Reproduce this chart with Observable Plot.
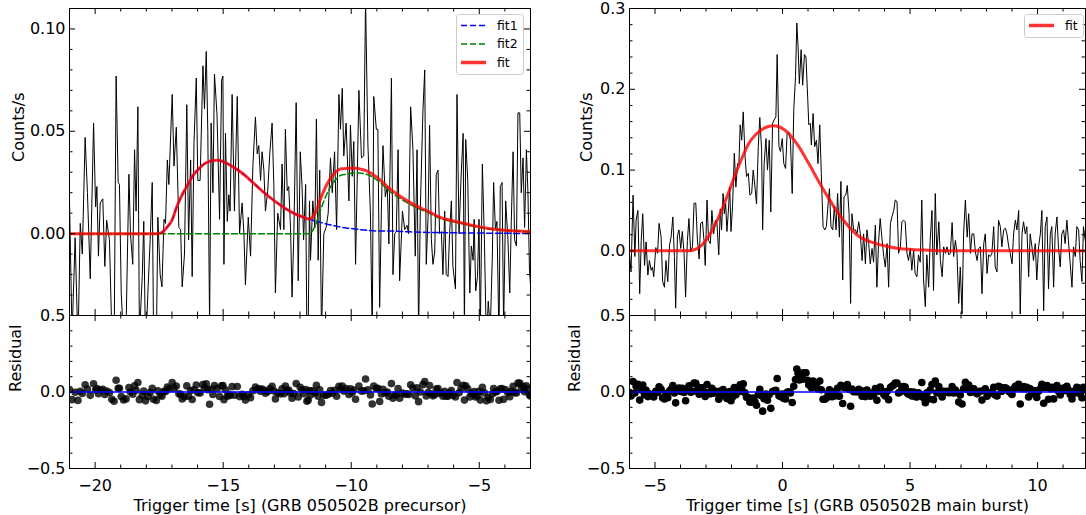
<!DOCTYPE html>
<html>
<head>
<meta charset="utf-8">
<script src="https://cdn.jsdelivr.net/npm/d3@7"></script>
<script src="https://cdn.jsdelivr.net/npm/@observablehq/plot@0.6"></script>
<style>
  html, body { margin: 0; padding: 0; background: #ffffff; }
  #fig { position: relative; width: 1086px; height: 515px; background: #ffffff; font-family: "DejaVu Sans", sans-serif; overflow: hidden; }
  #fig > svg { position: absolute; }
</style>
</head>
<body>
<div id="fig"></div>
<script>
// ---------- Precursor light curve (GRB 050502B precursor) ----------
const preTime = [
-21.00,-20.90,-20.78,-20.67,-20.58,-20.50,-20.39,-20.30,-20.19,-20.06,
-19.98,-19.93,-19.87,-19.80,-19.70,-19.62,-19.55,-19.44,-19.35,-19.26,
-19.18,-19.10,-19.05,-18.98,-18.89,-18.79,-18.68,-18.62,-18.53,-18.46,
-18.40,-18.33,-18.27,-18.16,-18.10,-18.03,-17.94,-17.85,-17.77,-17.72,
-17.61,-17.55,-17.46,-17.39,-17.31,-17.25,-17.18,-17.12,-16.99,-16.92,
-16.83,-16.73,-16.66,-16.60,-16.51,-16.42,-16.35,-16.27,-16.21,-16.14,
-16.05,-15.99,-15.90,-15.79,-15.73,-15.66,-15.60,-15.53,-15.47,-15.40,
-15.34,-15.24,-15.14,-15.06,-15.01,-14.97,-14.91,-14.84,-14.78,-14.73,
-14.65,-14.56,-14.45,-14.36,-14.26,-14.19,-14.13,-14.02,-13.93,-13.84,
-13.74,-13.67,-13.61,-13.54,-13.48,-13.41,-13.35,-13.26,-13.18,-13.09,
-13.02,-12.96,-12.87,-12.76,-12.70,-12.63,-12.57,-12.50,-12.44,-12.37,
-12.31,-12.24,-12.15,-12.07,-11.99,-11.92,-11.86,-11.78,-11.73,-11.68,
-11.63,-11.59,-11.50,-11.42,-11.36,-11.29,-11.23,-11.16,-11.07,-10.98,
-10.90,-10.81,-10.74,-10.65,-10.57,-10.48,-10.42,-10.35,-10.29,-10.20,
-10.09,-10.03,-9.96,-9.90,-9.83,-9.70,-9.60,-9.51,-9.44,-9.35,
-9.25,-9.18,-9.12,-9.02,-8.96,-8.89,-8.82,-8.76,-8.67,-8.59,
-8.53,-8.43,-8.37,-8.30,-8.24,-8.17,-8.11,-8.00,-7.91,-7.82,
-7.76,-7.68,-7.59,-7.50,-7.43,-7.37,-7.30,-7.20,-7.13,-7.07,
-7.00,-6.94,-6.87,-6.81,-6.74,-6.68,-6.61,-6.55,-6.48,-6.42,
-6.35,-6.29,-6.22,-6.16,-6.09,-6.03,-5.93,-5.87,-5.79,-5.71,
-5.63,-5.58,-5.53,-5.45,-5.37,-5.31,-5.24,-5.20,-5.14,-5.07,
-5.01,-4.96,-4.88,-4.80,-4.72,-4.65,-4.57,-4.49,-4.44,-4.37,
-4.31,-4.23,-4.18,-4.11,-4.05,-3.97,-3.88,-3.81,-3.75,-3.68,
-3.62,-3.55,-3.49,-3.42,-3.36,-3.29,-3.23,-3.16,-3.10,-3.04,
-3.00];
const preRate = [
0.016,-0.050,-0.002,-0.055,0.005,-0.010,0.047,0.020,-0.022,0.054,
0.013,0.023,-0.011,0.015,0.017,-0.016,0.0065,-0.003,-0.048,-0.060,
0.077,0.025,0.024,-0.029,-0.052,-0.045,0.029,0.000,-0.015,0.041,
0.011,0.062,-0.050,-0.021,0.006,-0.058,-0.029,-0.003,0.025,-0.047,
-0.055,0.008,-0.020,-0.026,0.007,0.005,0.036,0.024,0.068,0.033,
0.052,0.003,0.002,-0.026,-0.010,0.063,-0.003,0.036,-0.021,0.044,
0.076,0.026,0.026,0.082,0.061,0.089,0.050,-0.045,0.054,0.020,
0.078,0.058,0.007,0.075,0.077,-0.015,0.049,0.006,0.019,0.011,
0.068,0.011,0.067,0.000,0.015,0.000,-0.025,0.008,-0.011,0.033,
0.057,0.039,0.043,0.026,0.040,0.031,0.011,0.021,0.039,0.054,
0.023,-0.029,0.010,0.002,0.034,0.002,0.051,0.021,0.023,0.003,
-0.031,0.000,0.064,-0.023,0.040,0.023,-0.003,0.024,-0.052,-0.046,
0.016,-0.013,0.016,0.003,0.056,-0.013,0.031,-0.050,0.000,0.003,
0.010,0.037,0.020,0.040,0.002,0.068,0.051,0.071,0.038,0.054,
0.016,0.053,0.028,0.045,-0.015,0.070,0.037,0.038,0.115,0.044,
0.010,-0.050,0.067,0.051,0.051,-0.036,0.013,0.043,0.018,0.023,
-0.005,0.076,-0.020,0.000,0.001,0.041,-0.023,0.011,0.002,0.004,
0.000,0.062,0.041,-0.011,0.041,-0.050,0.013,0.060,0.080,-0.015,
0.008,0.053,-0.003,-0.015,-0.009,0.029,0.031,0.000,0.001,-0.020,
0.011,-0.020,-0.021,0.000,0.016,-0.016,-0.027,0.068,0.000,0.028,
0.049,-0.048,0.046,0.026,-0.029,-0.006,-0.013,0.007,-0.028,-0.021,
0.007,-0.050,0.034,-0.003,-0.055,-0.033,-0.047,-0.011,0.025,0.002,
0.006,-0.052,0.023,0.025,-0.046,0.016,-0.003,-0.029,0.006,0.040,
-0.003,-0.006,0.059,0.059,0.020,0.037,0.003,0.041,0.020,-0.018,
-0.025];
const preResid = [
0.016,-0.050,-0.002,-0.055,0.005,-0.010,0.047,0.020,-0.022,0.054,
0.013,0.023,-0.011,0.015,0.017,-0.016,0.0065,-0.003,-0.048,-0.060,
0.077,0.025,0.024,-0.029,-0.052,-0.045,0.029,0.000,-0.015,0.041,
0.011,0.062,-0.050,-0.021,0.006,-0.058,-0.029,-0.003,0.025,-0.047,
-0.055,0.008,-0.020,-0.027,0.005,0.0025,0.0325,0.0195,0.061,0.024,
0.0395,-0.012,-0.015,-0.045,-0.031,0.040,-0.028,0.0095,-0.049,0.015,
0.0455,-0.005,-0.006,0.048,0.027,0.054,0.015,-0.080,0.018,-0.016,
0.042,0.022,-0.029,0.040,0.042,-0.050,0.014,-0.028,-0.015,-0.023,
0.035,-0.021,0.036,-0.030,-0.0145,-0.029,-0.053,-0.019,-0.037,0.008,
0.033,0.016,0.0205,0.0045,0.019,0.011,-0.0085,0.0025,0.021,0.037,
0.007,-0.045,-0.005,-0.012,0.021,-0.011,0.039,0.009,0.012,-0.008,
-0.041,-0.010,0.055,-0.032,0.031,0.015,-0.011,0.016,-0.060,-0.053,
0.009,-0.020,0.0075,-0.007,0.0445,-0.027,0.015,-0.068,-0.021,-0.0205,
-0.015,0.010,-0.008,0.011,-0.028,0.037,0.020,0.039,0.006,0.022,
-0.016,0.021,-0.004,0.013,-0.047,0.0385,0.006,0.0075,0.085,0.014,
-0.019,-0.078,0.039,0.023,0.024,-0.062,-0.0125,0.018,-0.006,0.000,
-0.0275,0.055,-0.0405,-0.020,-0.0185,0.022,-0.041,-0.0065,-0.015,-0.012,
-0.016,0.047,0.0265,-0.025,0.0275,-0.063,0.000,0.048,0.0685,-0.026,
-0.003,0.042,-0.013,-0.025,-0.018,0.020,0.022,-0.008,-0.007,-0.028,
0.004,-0.027,-0.028,-0.0065,0.010,-0.022,-0.033,0.062,-0.005,0.023,
0.044,-0.053,0.041,0.021,-0.033,-0.010,-0.017,0.003,-0.032,-0.025,
0.004,-0.053,0.031,-0.006,-0.058,-0.036,-0.049,-0.013,0.023,0.000,
0.004,-0.054,0.021,0.023,-0.048,0.014,-0.005,-0.031,0.004,0.038,
-0.004,-0.007,0.058,0.058,0.019,0.036,0.002,0.040,0.019,-0.019,
-0.026];
// precursor model components
const preFitTime = [-21,-17.6,-17.4,-17.2,-17.0,-16.8,-16.6,-16.4,-16.2,-16.0,
-15.8,-15.6,-15.4,-15.2,-15.0,-14.6,-14.2,-13.8,-13.4,-13.0,
-12.6,-12.2,-11.9,-11.65,-11.4,-11.2,-11.0,-10.8,-10.6,-10.4,
-10.2,-10.0,-9.8,-9.6,-9.4,-9.0,-8.5,-8.0,-7.5,-7.0,
-6.5,-6.0,-5.5,-5.0,-4.5,-4.0,-3.5,-3.0];
const preFit1 = [0,0,0.0005,0.003,0.0065,0.0135,0.019,0.0235,0.028,0.031,
0.0335,0.035,0.0357,0.0358,0.0352,0.0325,0.029,0.0245,0.020,0.016,
0.0125,0.0097,0.0082,0.0071,0.0062,0.0055,0.0048,0.0042,0.0037,0.0032,
0.0028,0.0025,0.0022,0.0019,0.0017,0.0013,0.0013,0.0010,0.0008,0.0006,
0.0005,0.0004,0.0003,0.0003,0.0002,0.0002,0.0001,0.0001];
const preFit2 = [0,0,0,0,0,0,0,0,0,0,
0,0,0,0,0,0,0,0,0,0,
0,0,0,0,0.004,0.0115,0.018,0.023,0.0265,0.0285,
0.029,0.0295,0.0297,0.0295,0.029,0.0263,0.0207,0.0165,0.013,0.0103,
0.0073,0.0058,0.0044,0.003,0.0021,0.0015,0.0012,0.0009];
const preFitTotal = [0,0,0.0005,0.003,0.0065,0.0135,0.019,0.0235,0.028,0.031,
0.0335,0.035,0.0357,0.0358,0.0352,0.0325,0.029,0.0245,0.020,0.016,
0.0125,0.0097,0.0082,0.0071,0.0102,0.017,0.0228,0.0272,0.0302,0.0317,
0.0318,0.032,0.0319,0.0314,0.0307,0.0276,0.022,0.0175,0.0138,0.0109,
0.0078,0.0062,0.0047,0.0033,0.0023,0.0017,0.0013,0.0010];

// ---------- Main burst light curve (GRB 050502B main burst) ----------
const mainTime = [
-6.00,-5.94,-5.86,-5.79,-5.74,-5.67,-5.60,-5.54,-5.48,-5.41,
-5.35,-5.28,-5.22,-5.15,-5.10,-5.05,-4.97,-4.90,-4.84,-4.76,
-4.70,-4.63,-4.57,-4.50,-4.43,-4.37,-4.30,-4.24,-4.19,-4.12,
-4.06,-3.99,-3.93,-3.86,-3.80,-3.73,-3.67,-3.60,-3.53,-3.47,
-3.40,-3.34,-3.27,-3.21,-3.14,-3.08,-3.03,-2.96,-2.90,-2.83,
-2.77,-2.70,-2.63,-2.57,-2.50,-2.44,-2.39,-2.33,-2.28,-2.23,
-2.18,-2.13,-2.07,-2.02,-1.96,-1.89,-1.83,-1.76,-1.71,-1.66,
-1.60,-1.54,-1.47,-1.41,-1.34,-1.28,-1.21,-1.15,-1.08,-1.02,
-0.95,-0.89,-0.82,-0.78,-0.72,-0.65,-0.59,-0.52,-0.46,-0.39,
-0.33,-0.26,-0.21,-0.14,-0.08,-0.01,0.05,0.12,0.18,0.25,
0.31,0.38,0.44,0.51,0.56,0.61,0.66,0.73,0.79,0.86,
0.92,0.99,1.03,1.09,1.13,1.20,1.26,1.33,1.39,1.46,
1.52,1.59,1.66,1.72,1.79,1.84,1.90,1.97,2.03,2.10,
2.16,2.23,2.29,2.36,2.41,2.48,2.54,2.61,2.67,2.72,
2.79,2.86,2.92,2.99,3.05,3.12,3.18,3.25,3.31,3.38,
3.44,3.51,3.57,3.64,3.70,3.77,3.83,3.90,3.97,4.03,
4.10,4.16,4.23,4.29,4.36,4.42,4.49,4.55,4.62,4.68,
4.75,4.81,4.88,4.94,5.01,5.07,5.14,5.20,5.27,5.33,
5.40,5.46,5.53,5.60,5.66,5.73,5.79,5.86,5.92,5.99,
6.05,6.13,6.19,6.26,6.32,6.39,6.45,6.52,6.58,6.65,
6.71,6.78,6.84,6.91,6.97,7.04,7.10,7.17,7.24,7.30,
7.37,7.43,7.50,7.56,7.63,7.69,7.76,7.82,7.89,7.95,
8.02,8.08,8.15,8.21,8.28,8.34,8.41,8.47,8.54,8.60,
8.67,8.74,8.80,8.87,8.93,9.00,9.06,9.13,9.19,9.26,
9.32,9.39,9.45,9.52,9.58,9.65,9.71,9.78,9.84,9.91,
9.97,10.04,10.11,10.17,10.24,10.30,10.37,10.43,10.50,10.56,
10.63,10.69,10.76,10.82,10.89,10.95,11.02,11.08,11.15,11.21,
11.28,11.35,11.41,11.48,11.54,11.61,11.67,11.74,11.80,11.87,
11.93];
const mainRate = [
-0.003,-0.026,0.069,-0.007,0.038,0.050,-0.053,0.013,0.046,-0.018,
0.011,-0.030,-0.012,-0.024,-0.020,-0.032,0.004,-0.003,0.034,0.017,
-0.038,-0.045,-0.012,-0.038,0.007,0.017,0.042,-0.007,-0.071,0.019,
0.026,0.003,0.024,-0.003,-0.057,0.013,0.040,-0.001,0.005,0.059,
0.059,0.015,-0.010,0.034,0.036,0.013,-0.018,0.063,0.013,0.009,
0.050,0.021,0.038,0.034,-0.005,0.052,0.026,0.071,0.046,0.059,
0.024,0.046,0.079,0.024,0.055,0.121,0.079,0.108,0.108,0.156,
0.137,0.172,0.117,0.092,0.096,0.069,0.071,0.100,0.079,0.058,
0.129,0.165,0.125,0.026,0.108,0.139,0.100,0.137,0.048,0.158,
0.162,0.166,0.243,0.129,0.123,0.139,0.108,0.102,0.145,0.147,
0.137,0.071,0.174,0.216,0.282,0.253,0.207,0.249,0.205,0.243,
0.240,0.187,0.156,0.158,0.131,0.170,0.129,0.137,0.108,0.156,
0.096,0.030,0.026,0.030,0.059,0.077,0.030,0.026,0.055,0.026,
0.071,0.017,0.086,-0.036,0.067,0.069,0.081,0.046,-0.065,0.046,
0.026,0.026,0.021,0.036,0.021,-0.012,0.021,-0.016,0.026,0.009,
-0.016,0.003,-0.014,0.032,-0.045,0.013,0.040,0.015,-0.007,-0.020,
0.009,-0.045,0.034,0.042,0.050,0.063,0.061,-0.003,0.005,0.036,
0.038,0.036,-0.003,-0.012,0.003,-0.024,0.001,-0.028,-0.032,-0.005,
-0.014,0.063,-0.036,-0.069,-0.005,-0.045,0.013,0.050,-0.049,0.071,
-0.005,0.036,-0.012,-0.032,0.005,-0.003,0.005,-0.005,-0.003,0.035,
-0.007,0.013,-0.003,-0.065,-0.020,-0.078,0.021,0.063,0.017,0.046,
-0.003,0.021,0.021,-0.001,-0.012,0.003,0.005,-0.053,0.009,0.021,
-0.028,-0.005,-0.007,-0.003,0.030,-0.020,-0.026,0.038,0.030,0.005,
0.026,0.028,0.021,0.005,-0.003,-0.016,0.021,0.038,0.026,0.050,
-0.078,0.021,0.036,0.021,0.030,-0.032,0.021,0.005,-0.012,0.009,
-0.036,0.005,0.021,0.050,-0.074,0.030,0.042,-0.047,0.021,0.030,
-0.045,0.021,0.042,0.005,-0.020,0.021,0.026,0.009,0.038,0.013,
-0.016,-0.045,0.005,-0.007,0.030,0.026,-0.012,-0.038,0.030,0.013,
0.020];
const mainResid = [
-0.003,-0.026,0.069,-0.007,0.038,0.050,-0.053,0.013,0.046,-0.018,
0.011,-0.030,-0.012,-0.024,-0.020,-0.032,0.004,-0.003,0.034,0.017,
-0.038,-0.045,-0.012,-0.038,0.007,0.017,0.042,-0.007,-0.071,0.019,
0.026,0.003,0.024,-0.003,-0.057,0.013,0.040,-0.001,0.004,0.058,
0.057,0.012,-0.015,0.028,0.028,0.0035,-0.029,0.0495,-0.005,-0.012,
0.025,-0.008,0.005,-0.003,-0.047,0.006,-0.024,0.016,-0.013,-0.004,
-0.043,-0.025,0.003,-0.057,-0.032,0.029,-0.018,0.006,0.002,0.047,
0.023,0.054,-0.006,-0.035,-0.036,-0.066,-0.067,-0.040,-0.064,-0.087,
-0.018,0.017,-0.025,-0.125,-0.044,-0.014,-0.054,-0.017,-0.107,0.003,
0.007,0.011,0.088,-0.025,-0.030,-0.013,-0.042,-0.046,-0.002,0.002,
-0.006,-0.069,0.037,0.082,0.150,0.123,0.079,0.124,0.084,0.126,
0.126,0.077,0.048,0.053,0.028,0.072,0.034,0.046,0.020,0.072,
0.015,-0.047,-0.047,-0.039,-0.007,0.014,-0.030,-0.030,0.002,-0.024,
0.024,-0.028,0.044,-0.075,0.030,0.035,0.049,0.016,-0.093,0.020,
0.002,0.004,0.001,0.018,0.004,-0.028,0.006,-0.030,0.013,-0.003,
-0.0275,-0.008,-0.024,0.0225,-0.054,0.005,0.032,0.008,-0.014,-0.026,
0.003,-0.050,0.029,0.038,0.046,0.059,0.058,-0.006,0.002,0.033,
0.035,0.033,-0.005,-0.014,0.001,-0.026,-0.001,-0.030,-0.033,-0.006,
-0.015,0.062,-0.037,-0.070,-0.006,-0.046,0.012,0.049,-0.050,0.071,
-0.005,0.036,-0.012,-0.032,0.005,-0.003,0.005,-0.005,-0.003,0.035,
-0.007,0.013,-0.003,-0.065,-0.020,-0.078,0.021,0.063,0.017,0.046,
-0.003,0.021,0.021,-0.001,-0.012,0.003,0.005,-0.053,0.009,0.021,
-0.028,-0.005,-0.007,-0.003,0.030,-0.020,-0.026,0.038,0.030,0.005,
0.026,0.028,0.021,0.005,-0.003,-0.016,0.021,0.038,0.026,0.050,
-0.078,0.021,0.036,0.021,0.030,-0.032,0.021,0.005,-0.012,0.009,
-0.036,0.005,0.021,0.050,-0.074,0.030,0.042,-0.047,0.021,0.030,
-0.045,0.021,0.042,0.005,-0.020,0.021,0.026,0.009,0.038,0.013,
-0.016,-0.045,0.005,-0.007,0.030,0.026,-0.012,-0.038,0.030,0.013,
0.020];
const mainFitTime = [-6,-3.7,-3.43,-3.17,-2.91,-2.65,-2.39,-2.13,-1.86,-1.60,
-1.34,-1.08,-0.82,-0.56,-0.37,-0.17,0.07,0.25,0.64,1.03,
1.42,1.81,2.20,2.60,2.99,3.38,3.77,4.16,4.55,5.07,
5.73,6.5,11.93];
const mainFit = [0,0,0.0017,0.007,0.0174,0.032,0.050,0.071,0.094,0.114,
0.132,0.143,0.150,0.154,0.155,0.154,0.150,0.145,0.129,0.108,
0.086,0.065,0.046,0.030,0.018,0.012,0.008,0.005,0.003,0.0017,
0.0008,0,0];

// ---------- axis ticks and labels ----------
const preXMajor = [-20,-15,-10,-5];
const preXMinor = [-21,-19,-18,-17,-16,-14,-13,-12,-11,-9,-8,-7,-6,-4,-3];
const mainXMajor = [-5,0,5,10];
const mainXMinor = [-6,-4,-3,-2,-1,1,2,3,4,6,7,8,9,11];
const preYMajor = [0,0.05,0.10];
const preYMinor = [-0.03,-0.02,-0.01,0.01,0.02,0.03,0.04,0.06,0.07,0.08,0.09];
const mainYMajor = [0,0.1,0.2,0.3];
const mainYMinor = [-0.06,-0.04,-0.02,0.02,0.04,0.06,0.08,0.12,0.14,0.16,0.18,0.22,0.24,0.26,0.28];
const resYMajor = [-0.5,0,0.5];
const resYMinor = [-0.4,-0.3,-0.2,-0.1,0.1,0.2,0.3,0.4];
const preXTitle = "Trigger time [s] (GRB 050502B precursor)";
const mainXTitle = "Trigger time [s] (GRB 050502B main burst)";
const topYTitle = "Counts/s";
const resYTitle = "Residual";

// ---------- tables ----------
const preRows = preTime.map((t, i) => ({t, rate: preRate[i], resid: preResid[i]}));
const mainRows = mainTime.map((t, i) => ({t, rate: mainRate[i], resid: mainResid[i]}));
const preFitRows = preFitTime.map((t, i) => ({t, fit1: preFit1[i], fit2: preFit2[i], fit: preFitTotal[i]}));
const mainFitRows = mainFitTime.map((t, i) => ({t, fit: mainFit[i]}));

const FS = 16;
const fmtInt = d3.format("d");
const fmt2 = d3.format(".2f");
const fmt1 = d3.format(".1f");

function tickMarks(xMajor, xMinor, yMajor, yMinor, pw, ph) {
  const M = 6, m = 3.5;
  const s = {stroke: "black", strokeWidth: 1};
  return [
    Plot.tickX(xMajor, {x: d => d, insetTop: ph - M, ...s}),
    Plot.tickX(xMajor, {x: d => d, insetBottom: ph - M, ...s}),
    Plot.tickX(xMinor, {x: d => d, insetTop: ph - m, ...s}),
    Plot.tickX(xMinor, {x: d => d, insetBottom: ph - m, ...s}),
    Plot.tickY(yMajor, {y: d => d, insetRight: pw - M, ...s}),
    Plot.tickY(yMajor, {y: d => d, insetLeft: pw - M, ...s}),
    Plot.tickY(yMinor, {y: d => d, insetRight: pw - m, ...s}),
    Plot.tickY(yMinor, {y: d => d, insetLeft: pw - m, ...s})
  ];
}

function panel(cfg) {
  const pw = cfg.width - cfg.ml - cfg.mr;
  const ph = cfg.height - cfg.mt - cfg.mb;
  const marks = [
    ...cfg.marks,
    ...tickMarks(cfg.xMajor, cfg.xMinor, cfg.yMajor, cfg.yMinor, pw, ph),
    Plot.frame({stroke: "black", strokeWidth: 1}),
    Plot.text(cfg.yMajor, {y: d => d, text: cfg.yFmt, frameAnchor: "left", textAnchor: "end", dx: -4, fontSize: FS, fill: "black"}),
    Plot.text([cfg.yTitle], {frameAnchor: "left", rotate: -90, dx: cfg.yTitleDx, fontSize: FS, fill: "black"})
  ];
  if (cfg.xLabels) {
    marks.push(Plot.text(cfg.xMajor, {x: d => d, text: d => fmtInt(d), frameAnchor: "bottom", lineAnchor: "top", dy: 11, fontSize: FS, fill: "black"}));
    marks.push(Plot.text([cfg.xTitle], {frameAnchor: "bottom", lineAnchor: "top", dy: 31, fontSize: FS, fill: "black"}));
  }
  const svg = Plot.plot({
    width: cfg.width, height: cfg.height,
    marginLeft: cfg.ml, marginRight: cfg.mr, marginTop: cfg.mt, marginBottom: cfg.mb,
    x: {domain: cfg.xDomain, axis: null},
    y: {domain: cfg.yDomain, axis: null},
    style: {background: "transparent", overflow: "visible", fontFamily: "DejaVu Sans, sans-serif", fontSize: FS + "px", color: "black"},
    marks
  });
  svg.style.left = cfg.left + "px";
  svg.style.top = cfg.top + "px";
  svg.style.maxWidth = "none";
  return svg;
}

const fig = document.getElementById("fig");

// bottom-left: precursor residuals
fig.appendChild(panel({
  left: 0, top: 300, width: 545, height: 215, ml: 69, mr: 15, mt: 15, mb: 47,
  xDomain: [-21, -3], yDomain: [-0.5, 0.5],
  xMajor: preXMajor, xMinor: preXMinor, yMajor: resYMajor, yMinor: resYMinor,
  yFmt: d => fmt1(d), yTitle: resYTitle, yTitleDx: -54, xLabels: true, xTitle: preXTitle,
  marks: [
    Plot.dot(preRows, {x: "t", y: "resid", r: 3.8, fill: "black", fillOpacity: 0.8, stroke: "none", clip: true}),
    Plot.ruleY([0], {stroke: "blue", strokeWidth: 1.5})
  ]
}));

// bottom-right: main burst residuals
fig.appendChild(panel({
  left: 545, top: 300, width: 541, height: 215, ml: 84, mr: 1, mt: 15, mb: 47,
  xDomain: [-6, 11.88], yDomain: [-0.5, 0.5],
  xMajor: mainXMajor, xMinor: mainXMinor, yMajor: resYMajor, yMinor: resYMinor,
  yFmt: d => fmt1(d), yTitle: resYTitle, yTitleDx: -55, xLabels: true, xTitle: mainXTitle,
  marks: [
    Plot.dot(mainRows, {x: "t", y: "resid", r: 3.8, fill: "black", stroke: "none", clip: true}),
    Plot.ruleY([0], {stroke: "blue", strokeWidth: 1.5})
  ]
}));

// top-left: precursor light curve
fig.appendChild(panel({
  left: 0, top: 0, width: 545, height: 316, ml: 69, mr: 15, mt: 8, mb: 1,
  xDomain: [-21, -3], yDomain: [-0.04, 0.11],
  xMajor: preXMajor, xMinor: preXMinor, yMajor: preYMajor, yMinor: preYMinor,
  yFmt: d => fmt2(d), yTitle: topYTitle, yTitleDx: -51, xLabels: false,
  marks: [
    Plot.line(preRows, {x: "t", y: "rate", stroke: "black", strokeWidth: 1, clip: true}),
    Plot.line(preFitRows, {x: "t", y: "fit1", stroke: "blue", strokeWidth: 1.5, strokeDasharray: "6,3", curve: "monotone-x", clip: true}),
    Plot.line(preFitRows, {x: "t", y: "fit2", stroke: "green", strokeWidth: 1.5, strokeDasharray: "6,3", curve: "monotone-x", clip: true}),
    Plot.line(preFitRows, {x: "t", y: "fit", stroke: "red", strokeOpacity: 0.8, strokeWidth: 3, curve: "monotone-x", clip: true})
  ]
}));

// top-right: main burst light curve
fig.appendChild(panel({
  left: 545, top: 0, width: 541, height: 316, ml: 84, mr: 1, mt: 8, mb: 1,
  xDomain: [-6, 11.88], yDomain: [-0.08, 0.30],
  xMajor: mainXMajor, xMinor: mainXMinor, yMajor: mainYMajor, yMinor: mainYMinor,
  yFmt: d => fmt1(d), yTitle: topYTitle, yTitleDx: -43, xLabels: false,
  marks: [
    Plot.line(mainRows, {x: "t", y: "rate", stroke: "black", strokeWidth: 1, clip: true}),
    Plot.line(mainFitRows, {x: "t", y: "fit", stroke: "red", strokeOpacity: 0.8, strokeWidth: 3, curve: "monotone-x", clip: true})
  ]
}));

// ---------- legends (drawn inside the axes, like matplotlib) ----------
const NS = "http://www.w3.org/2000/svg";
function legend(left, top, w, h, items) {
  const svg = document.createElementNS(NS, "svg");
  svg.setAttribute("width", w + 1);
  svg.setAttribute("height", h + 1);
  svg.style.left = left + "px";
  svg.style.top = top + "px";
  svg.style.overflow = "visible";
  const rect = document.createElementNS(NS, "rect");
  rect.setAttribute("x", 0.5); rect.setAttribute("y", 0.5);
  rect.setAttribute("width", w); rect.setAttribute("height", h);
  rect.setAttribute("rx", 3);
  rect.setAttribute("fill", "white"); rect.setAttribute("fill-opacity", 0.8);
  rect.setAttribute("stroke", "#cccccc"); rect.setAttribute("stroke-width", 1);
  svg.appendChild(rect);
  items.forEach(it => {
    const ln = document.createElementNS(NS, "line");
    ln.setAttribute("x1", 5); ln.setAttribute("x2", 30);
    ln.setAttribute("y1", it.y); ln.setAttribute("y2", it.y);
    ln.setAttribute("stroke", it.color);
    ln.setAttribute("stroke-width", it.width);
    if (it.opacity) ln.setAttribute("stroke-opacity", it.opacity);
    if (it.dash) ln.setAttribute("stroke-dasharray", it.dash);
    svg.appendChild(ln);
    const tx = document.createElementNS(NS, "text");
    tx.setAttribute("x", 41); tx.setAttribute("y", it.y);
    tx.setAttribute("dy", "0.35em");
    tx.setAttribute("font-size", "12.5px");
    tx.setAttribute("font-family", "DejaVu Sans, sans-serif");
    tx.setAttribute("fill", "black");
    tx.textContent = it.label;
    svg.appendChild(tx);
  });
  fig.appendChild(svg);
}
legend(455.5, 13.5, 67, 60, [
  {label: "fit1", color: "blue", width: 1.5, dash: "6,3", y: 11.5},
  {label: "fit2", color: "green", width: 1.5, dash: "6,3", y: 30},
  {label: "fit", color: "red", width: 3.5, opacity: 0.8, y: 48.5}
]);
legend(1023.5, 13.5, 59, 23, [
  {label: "fit", color: "red", width: 3.5, opacity: 0.8, y: 11.5}
]);
</script>
</body>
</html>
